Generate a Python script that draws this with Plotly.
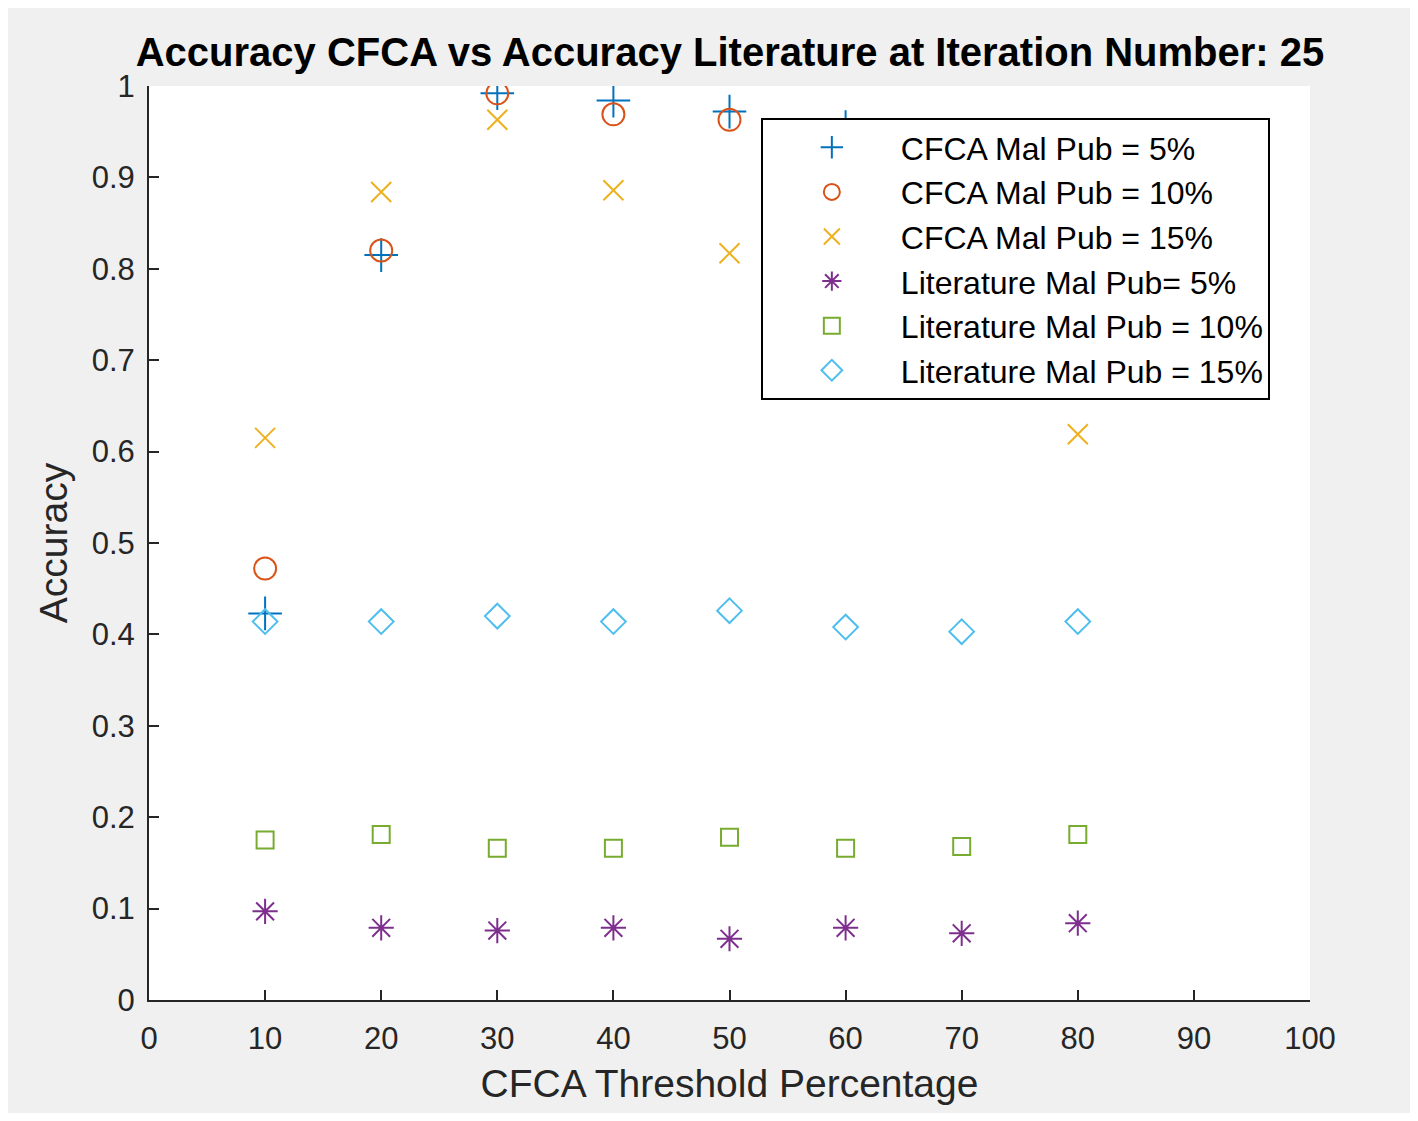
import plotly.graph_objects as go

thresholds = [10, 20, 30, 40, 50, 60, 70, 80]

# CFCA accuracy (points at 60-80 sit behind the legend in the original)
cfca_5 = [0.423, 0.815, 0.992, 0.984, 0.972, 0.955, 0.930, 0.920]
cfca_10 = [0.472, 0.820, 0.992, 0.969, 0.963, 0.940, 0.920, 0.910]
cfca_15 = [0.615, 0.884, 0.963, 0.886, 0.817, 0.750, 0.720, 0.619]

# literature accuracy
lit_5 = [0.097, 0.079, 0.076, 0.079, 0.067, 0.079, 0.073, 0.084]
lit_10 = [0.175, 0.181, 0.166, 0.166, 0.178, 0.166, 0.168, 0.181]
lit_15 = [0.414, 0.414, 0.420, 0.414, 0.426, 0.408, 0.403, 0.414]

series = [
    ("CFCA Mal Pub = 5%", cfca_5, "cross-thin-open", "#0072BD", 24),
    ("CFCA Mal Pub = 10%", cfca_10, "circle-open", "#D95319", 22),
    ("CFCA Mal Pub = 15%", cfca_15, "x-thin-open", "#EDB120", 20),
    ("Literature Mal Pub= 5%", lit_5, "asterisk-open", "#7E2F8E", 21),
    ("Literature Mal Pub = 10%", lit_10, "square-open", "#77AC30", 17),
    ("Literature Mal Pub = 15%", lit_15, "diamond-open", "#4DBEEE", 19),
]

font = "Liberation Sans, Arial, sans-serif"

fig = go.Figure()
for name, vals, symbol, color, size in series:
    fig.add_trace(
        go.Scatter(
            x=thresholds,
            y=vals,
            mode="markers",
            name=name,
            marker=dict(symbol=symbol, size=size, color=color, line=dict(color=color, width=2)),
        )
    )

axis_common = dict(
    showgrid=False,
    zeroline=False,
    showline=True,
    linecolor="#262626",
    linewidth=2,
    ticks="inside",
    ticklen=10,
    tickwidth=2,
    tickcolor="#262626",
    tickfont=dict(family=font, size=31, color="#262626"),
    title_font=dict(family=font, size=39, color="#262626"),
)

fig.update_xaxes(
    range=[0, 100],
    tickvals=list(range(0, 101, 10)),
    title_text="CFCA Threshold Percentage",
    title_standoff=14,
    ticklabelstandoff=10,
    **axis_common,
)
fig.update_yaxes(
    range=[0, 1],
    tickvals=[i / 10 for i in range(11)],
    ticktext=["0", "0.1", "0.2", "0.3", "0.4", "0.5", "0.6", "0.7", "0.8", "0.9", "1"],
    title_text="Accuracy",
    title_standoff=12,
    ticklabelstandoff=6,
    **axis_common,
)

fig.update_layout(
    width=1402,
    height=1105,
    paper_bgcolor="#f0f0f0",
    plot_bgcolor="white",
    margin=dict(l=141, r=100, t=78, b=113),
    title=dict(
        text="<b>Accuracy CFCA vs Accuracy Literature at Iteration Number: 25</b>",
        x=0.515,
        xanchor="center",
        y=0.960,
        yanchor="middle",
        font=dict(family=font, size=40, color="black"),
    ),
    legend=dict(
        x=0.527,
        y=0.965,
        xanchor="left",
        yanchor="top",
        bgcolor="white",
        bordercolor="black",
        borderwidth=2,
        itemwidth=128,
        font=dict(family=font, size=32, color="black"),
        tracegroupgap=0,
    ),
)

fig.write_html("out.html")
